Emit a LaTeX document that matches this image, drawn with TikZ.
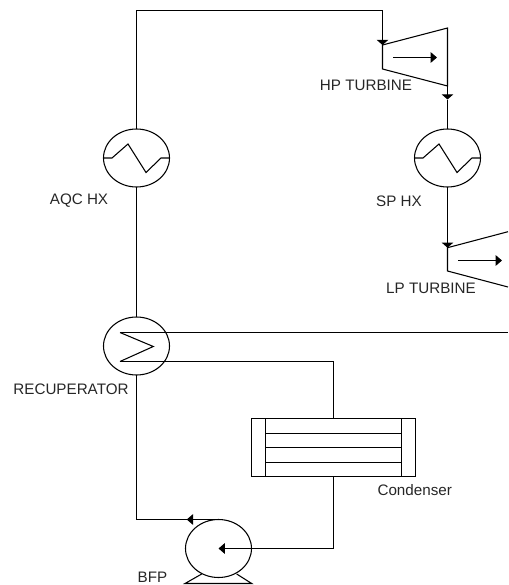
\documentclass[tikz,border=0pt]{standalone}
\usepackage{fontspec}
\setmainfont{Liberation Sans}
\usepackage{tikz}
\usetikzlibrary{arrows.meta, positioning, shapes.geometric, calc}

\begin{document}
\begin{tikzpicture}[
  x=0.75pt, y=-0.75pt,
  every node/.style={font=\fontsize{11.4}{13}\selectfont},
  hx/.style={draw, ellipse, line width=0.8pt, minimum width=49.5pt, minimum height=43.5pt, inner sep=0pt, outer sep=0pt},
  tag/.style={text=black!85, inner sep=0pt},
  line/.style={line width=0.8pt},
  arrow/.style={line width=0.8pt, -{Triangle[length=3.8pt, width=8.5pt]}},
  rotor/.style={line width=0.8pt, -{Triangle[length=4.8pt, width=8pt]}},
  shell/.style={draw, line width=0.8pt, minimum width=123pt, minimum height=43.5pt, inner sep=0pt, outer sep=0pt}
]
  \useasboundingbox (0,0) rectangle (508,585);

  % Heat exchangers
  \node[hx] (aqc) at (136.5, 158) {};
  \node[hx] (sp) at (447.5, 158) {};
  \node[hx] (recup) at (136.5, 346) {};
  \draw[line] (aqc.west) -- ++(8.5,0) -- ++(16,-14) -- ++(18,28.5) -- ++(15,-14.5) -- (aqc.east);
  \draw[line] (sp.west) -- ++(8.5,0) -- ++(16,-14) -- ++(18,28.5) -- ++(15,-14.5) -- (sp.east);

  % Turbines
  \coordinate (hpin) at (382.5, 45);
  \coordinate (hpout) at (447.5, 86);
  \draw[line] (hpin) -- (447.5, 28) -- (hpout) -- (382.5, 69) -- cycle;
  \draw[rotor] (393, 57.5) -- (437, 57.5);
  \coordinate (lpin) at (447.5, 247.7);
  \draw[line] (508, 231.7) -- (lpin) -- (447.5, 271) -- (508, 287);
  \draw[rotor] (458, 260.5) -- (502, 260.5);

  % Condenser
  \node[shell] (cond) at (333.5, 447.5) {};
  \draw[line] (265.5, 418.5) -- (265.5, 476.5);
  \draw[line] (401.5, 418.5) -- (401.5, 476.5);
  \draw[line] (265.5, 433.5) -- (401.5, 433.5);
  \draw[line] (265.5, 447.5) -- (401.5, 447.5);
  \draw[line] (265.5, 462.5) -- (401.5, 462.5);

  % Pump
  \node[hx] (bfp) at (218.5, 548.5) {};
  \draw[line] (201.7, 574) -- (185, 583.5) -- (251.7, 583.5) -- (236.7, 574);

  % Chevron
  \coordinate (chtop) at (120, 332.5);
  \coordinate (chbot) at (120, 361.5);
  \draw[line] (chtop) -- (153.3, 346.5) -- (chbot);

  % Connectors
  \coordinate (hpmark) at (447.5, 99.5);
  \coordinate (bfpmark) at (186.7, 519.5);
  \coordinate (exit) at (508, 332.5);
  \draw[arrow] (aqc.north) |- (382.5, 10.5) -- (hpin);
  \draw[arrow] (hpout) -- (hpmark);
  \draw[line] (hpmark) -- (sp.north);
  \draw[arrow] (sp.south) -- (lpin);
  \draw[line] (aqc.south) -- (recup.north);
  \draw[line] (chtop) -- (exit);
  \draw[line] (chbot) -| (cond.north);
  \draw[rotor] (cond.south) |- (bfp.center);
  \draw[rotor] (bfp.north) -- (bfpmark);
  \draw[line] (bfpmark) -| (recup.south);

  % Labels
  \node[tag] (aqclabel) at (79, 201) {AQC HX};
  \node[tag] (splabel) at (399, 201) {SP HX};
  \node[tag] (hplabel) at (366, 85) {HP TURBINE};
  \node[tag] (lplabel) at (431, 288) {LP TURBINE};
  \node[tag] (recuplabel) at (71, 389) {RECUPERATOR};
  \node[tag] (condlabel) at (414.7, 490.5) {Condenser};
  \node[tag] (bfplabel) at (152.5, 577) {BFP};
\end{tikzpicture}
\end{document}
